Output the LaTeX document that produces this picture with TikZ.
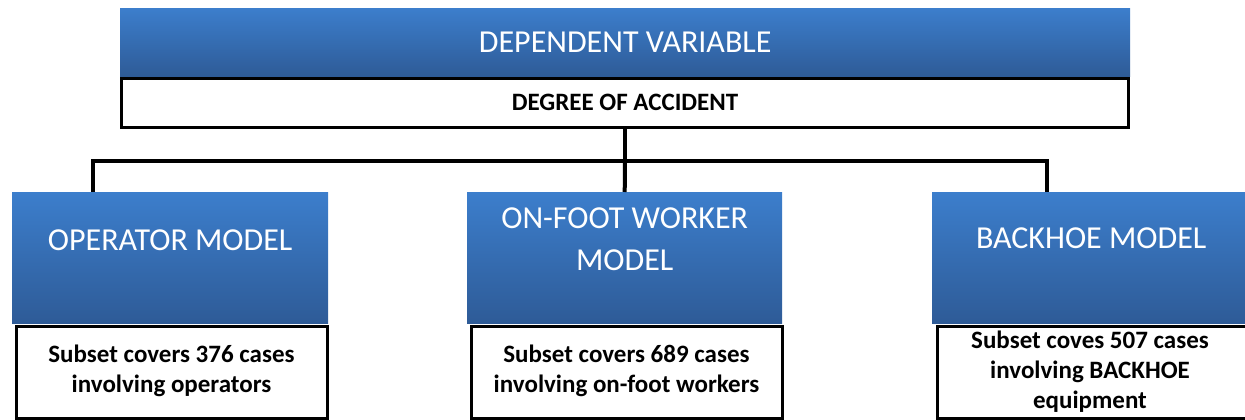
\documentclass[tikz,border=0pt]{standalone}
\usepackage{fontspec}
\setmainfont{Carlito}
\usetikzlibrary{calc}
\definecolor{btop}{HTML}{3C7ECC}
\definecolor{bbot}{HTML}{2E5B97}
\tikzset{
  bluebox/.style={rectangle, inner sep=0pt, top color=btop, bottom color=bbot, draw=none},
  whitebox/.style={rectangle, inner sep=0pt, fill=white, draw=black, line width=3pt},
  bigtxt/.style={text=white, font=\fontsize{32}{42}\selectfont, align=center, inner sep=0pt},
  smalltxt/.style={text=black, font=\fontsize{25}{30}\selectfont\bfseries, align=center, inner sep=0pt},
  conn/.style={line width=4pt, draw=black}
}
\begin{document}
\begin{tikzpicture}[x=1pt,y=-1pt]
\useasboundingbox (0,0) rectangle (1245,420);
\clip (0,0) rectangle (1245,420);
% top
\node[bluebox, minimum width=1010pt, minimum height=68pt, anchor=north west] (dv) at (120,8) {};
\node[bigtxt] (dvt) at (dv.center) {DEPENDENT VARIABLE};
\node[whitebox, minimum width=1007pt, minimum height=48pt, anchor=center] (deg) at (625,103) {};
\node[smalltxt] (degt) at ($(deg.center)+(0,-1)$) {DEGREE OF ACCIDENT};
% models
\node[bluebox, minimum width=316pt, minimum height=131pt, anchor=north west] (op) at (12,192) {};
\node[whitebox, minimum width=311pt, minimum height=92pt, anchor=north west] (ops) at (14.5,324.5) {};
\node[bigtxt, anchor=north] (opt) at ($(op.north)+(0,38)$) {OPERATOR MODEL};
\node[smalltxt] (opst) at ($(ops.center)+(0,-1)$) {Subset covers 376 cases\\involving operators};

\node[bluebox, minimum width=315pt, minimum height=131pt, anchor=north west] (fw) at (467,192) {};
\node[whitebox, minimum width=311pt, minimum height=92pt, anchor=north west] (fws) at (469.5,324.5) {};
\node[bigtxt, anchor=north] (fwt) at ($(fw.north)+(0,16)$) {ON-FOOT WORKER\\MODEL};
\node[smalltxt] (fwst) at ($(fws.center)+(0,-1)$) {Subset covers 689 cases\\involving on-foot workers};

\node[bluebox, minimum width=320pt, minimum height=131pt, anchor=north west] (bh) at (932,192) {};
\node[whitebox, minimum width=320pt, minimum height=92pt, anchor=north west] (bhs) at (935.5,324.5) {};
\node[bigtxt, anchor=north] (bht) at ($(bh.north)+(-1,36)$) {BACKHOE MODEL};
\node[smalltxt, anchor=north] (bhst) at (1090,330.5) {Subset coves 507 cases\\involving BACKHOE\\equipment};
% connectors
\draw[conn] (deg.south) -- ++(0,32) coordinate (bus);
\draw[conn] (bus) -| ($(op.north west)!0.256!(op.north east)$);
\draw[conn] (bus) -| ($(bh.north west)+(115,0)$);
\draw[conn] (bus) -- (fw.north);
\end{tikzpicture}
\end{document}
